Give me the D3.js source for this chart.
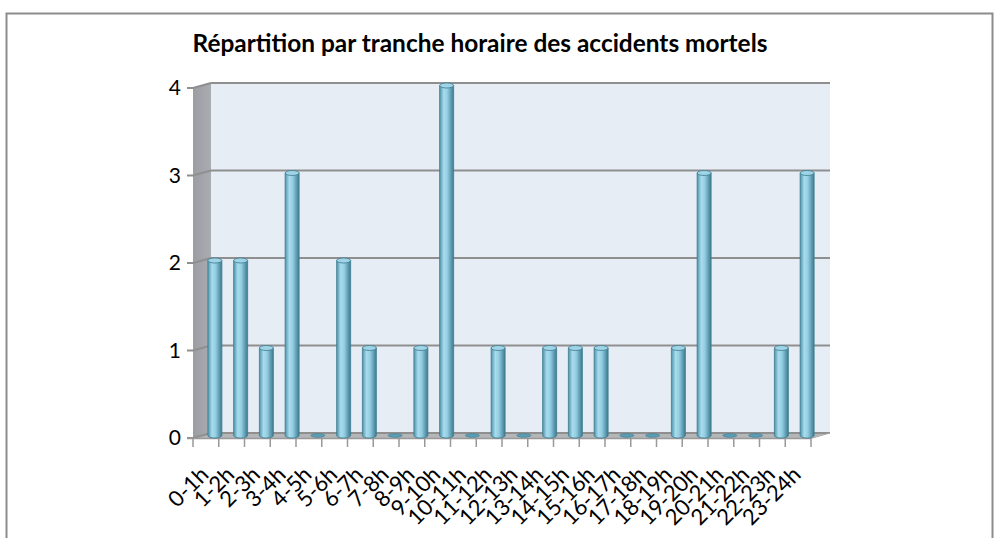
<!DOCTYPE html>
<html>
<head>
<meta charset="utf-8">
<script src="https://cdn.jsdelivr.net/npm/d3@7"></script>
<style>
  body { margin: 0; background: #fff; }
  svg { display: block; }
  text { font-family: Lato, "Open Sans", sans-serif; fill: #000; }
</style>
</head>
<body>
<div id="chart"></div>
<script>
// Data
const hours = ["0-1h", "1-2h", "2-3h", "3-4h", "4-5h", "5-6h", "6-7h", "7-8h", "8-9h", "9-10h",
  "10-11h", "11-12h", "12-13h", "13-14h", "14-15h", "15-16h", "16-17h", "17-18h", "18-19h",
  "19-20h", "20-21h", "21-22h", "22-23h", "23-24h"];
const accidents = [2, 2, 1, 3, 0, 2, 1, 0, 1, 4, 0, 1, 0, 1, 1, 1, 0, 0, 1, 3, 0, 0, 1, 3];
const yTicks = [0, 1, 2, 3, 4];
const title = "Répartition par tranche horaire des accidents mortels";

const W = 998, H = 538;
// 3D depth offset
const dx = 18, dy = -5;

const svg = d3.select("#chart").append("svg")
  .attr("width", W).attr("height", H);

const defs = svg.append("defs");
const barGrad = defs.append("linearGradient").attr("id", "barGrad")
  .attr("x1", "0%").attr("x2", "100%").attr("y1", "0%").attr("y2", "0%");
barGrad.append("stop").attr("offset", "0%").attr("stop-color", "#4f93aa");
barGrad.append("stop").attr("offset", "30%").attr("stop-color", "#a9dcee");
barGrad.append("stop").attr("offset", "55%").attr("stop-color", "#93cde2");
barGrad.append("stop").attr("offset", "100%").attr("stop-color", "#3b7a8f");

const wallGrad = defs.append("linearGradient").attr("id", "wallGrad")
  .attr("x1", "0%").attr("x2", "100%");
wallGrad.append("stop").attr("offset", "0%").attr("stop-color", "#9a9ea3");
wallGrad.append("stop").attr("offset", "100%").attr("stop-color", "#a9adb2");

// Outer frame
svg.append("rect")
  .attr("x", 6.5).attr("y", 13.5)
  .attr("width", 986).attr("height", 560)
  .attr("fill", "#fff").attr("stroke", "#8c8c8c").attr("stroke-width", 2);

// Scales (front plane)
const x = d3.scaleBand().domain(hours).range([193, 811]).paddingInner(0).paddingOuter(0);
const y = d3.scaleLinear().domain([0, 4]).range([438, 88]);

const x0 = 193, x1 = 811;

// Back wall
svg.append("rect")
  .attr("x", x0 + dx).attr("y", y(4) + dy)
  .attr("width", x1 - x0 + 1).attr("height", y(0) - y(4))
  .attr("fill", "#e6edf5");

// Left wall
svg.append("path")
  .attr("d", `M${x0},${y(4)} L${x0 + dx},${y(4) + dy} L${x0 + dx},${y(0) + dy} L${x0},${y(0)} Z`)
  .attr("fill", "url(#wallGrad)");

// Floor
svg.append("path")
  .attr("d", `M${x0},${y(0)} L${x0 + dx},${y(0) + dy} L${x1 + dx + 1},${y(0) + dy} L${x1},${y(0)} Z`)
  .attr("fill", "#b4b6b8");

// Gridlines on back wall and left wall
const grid = svg.append("g").attr("stroke", "#8f8f8f").attr("stroke-width", 2).attr("fill", "none");
yTicks.forEach(v => {
  grid.append("line")
    .attr("x1", x0 + dx).attr("x2", x1 + dx + 1)
    .attr("y1", y(v) + dy).attr("y2", y(v) + dy);
  grid.append("path")
    .attr("d", `M${x0 - 6},${y(v)} L${x0},${y(v)} L${x0 + dx},${y(v) + dy}`);
});

// Floor front edge and x ticks
svg.append("line")
  .attr("x1", x0 - 6).attr("x2", x1).attr("y1", y(0) + 0.5).attr("y2", y(0) + 0.5)
  .attr("stroke", "#999").attr("stroke-width", 1.5);
svg.append("path")
  .attr("d", `M${x1},${y(0) + 0.5} L${x1 + dx + 1},${y(0) + dy}`)
  .attr("stroke", "#aaa").attr("stroke-width", 1);
svg.append("g").selectAll("line")
  .data(d3.range(hours.length + 1))
  .join("line")
  .attr("x1", i => x0 + i * x.bandwidth()).attr("x2", i => x0 + i * x.bandwidth())
  .attr("y1", y(0)).attr("y2", y(0) + 9)
  .attr("stroke", "#999").attr("stroke-width", 1.5);

// Y axis labels
svg.append("g").selectAll("text")
  .data(yTicks)
  .join("text")
  .attr("x", 181).attr("y", d => y(d) + 7)
  .attr("text-anchor", "end")
  .style("font-size", "21px")
  .text(d => d);

// Cylinder bars
const barW = 14, ry = 2.5;
const bars = svg.append("g").selectAll("g")
  .data(hours.map((h, i) => ({ h, v: accidents[i] })))
  .join("g")
  .attr("transform", d => `translate(${x(d.h) + x.bandwidth() / 2 + dx / 2},${dy / 2})`);

bars.filter(d => d.v > 0).append("path")
  .attr("d", d => {
    const top = y(d.v), bot = y(0);
    return `M${-barW / 2},${top} L${-barW / 2},${bot} A${barW / 2},${ry} 0 0 0 ${barW / 2},${bot} L${barW / 2},${top} Z`;
  })
  .attr("fill", "url(#barGrad)")
  .attr("stroke", "#3d7c90").attr("stroke-width", 0.8);

bars.filter(d => d.v > 0).append("ellipse")
  .attr("cx", 0).attr("cy", d => y(d.v))
  .attr("rx", barW / 2).attr("ry", ry)
  .attr("fill", "#9fd3e6")
  .attr("stroke", "#3d7c90").attr("stroke-width", 0.8);

bars.filter(d => d.v === 0).append("ellipse")
  .attr("cx", 0).attr("cy", y(0))
  .attr("rx", barW / 2).attr("ry", 1.8)
  .attr("fill", "#5b9fb6")
  .attr("stroke", "#3d7c90").attr("stroke-width", 0.6);

// X labels, rotated
svg.append("g").selectAll("text")
  .data(hours)
  .join("text")
  .attr("text-anchor", "end")
  .attr("transform", d => `translate(${x(d) + x.bandwidth() / 2 + 4},${y(0) + 38}) rotate(-45)`)
  .style("font-size", "22px")
  .text(d => d);

// Title
const t = svg.append("text")
  .attr("x", 480).attr("y", 52)
  .attr("text-anchor", "middle")
  .style("font-size", "18px")
  .style("font-weight", "bold")
  .text(title);
const tw = t.node().getComputedTextLength();
t.style("font-size", (18 * 575 / tw).toFixed(2) + "px");
</script>
</body>
</html>
